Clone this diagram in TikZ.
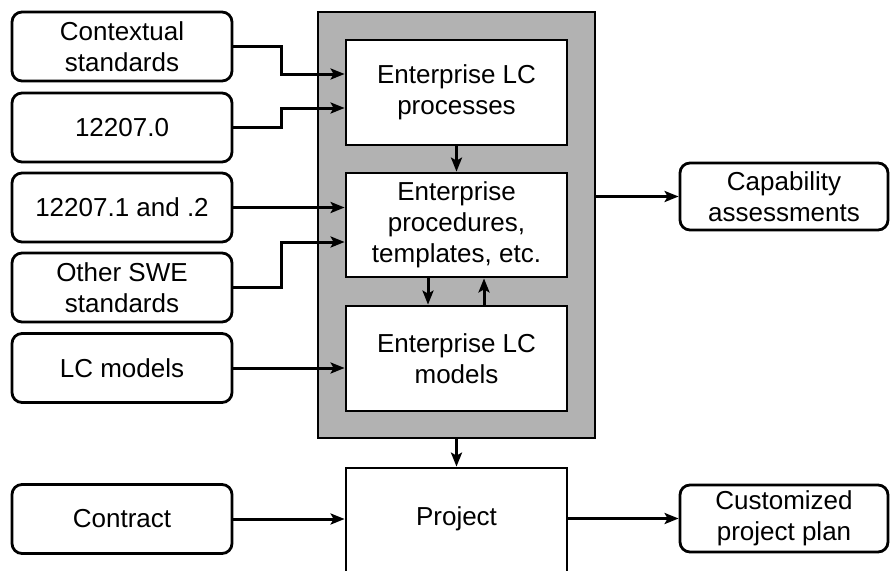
\documentclass[tikz,border=0pt]{standalone}
\usepackage{fontspec}
\setmainfont{Liberation Sans}
\usetikzlibrary{arrows.meta,calc}
\begin{document}
\begin{tikzpicture}[x=1pt,y=-1pt,
  txt/.style={font=\fontsize{26}{31}\selectfont},
  srcbox/.style={draw, txt, line width=2.8pt, rounded corners=10pt, minimum width=220pt, minimum height=69pt, align=center, inner sep=0pt},
  innerbox/.style={draw, txt, fill=white, line width=2.8pt, minimum width=221pt, align=center, inner sep=0pt},
  graybox/.style={draw, fill=black!30, line width=2.8pt, minimum width=277pt, minimum height=426pt},
  arr/.style={line width=3pt, -{Stealth[length=14pt,width=11pt,inset=3pt]}}
]
\useasboundingbox (0,0) rectangle (890,570);
\clip (0,0) rectangle (890,570);
% sources
\node[srcbox] (ctx) at (122,46.5) {Contextual\\standards};
\node[srcbox] (s0) at (122,127.5) {12207.0};
\node[srcbox] (s12) at (122,207.5) {12207.1 and .2};
\node[srcbox] (swe) at (122,287.5) {Other SWE\\standards};
\node[srcbox] (lcm) at (122,368) {LC models};
\node[srcbox] (con) at (122,519) {Contract};
% enterprise
\node[graybox] (gray) at (456.5,225) {};
\node[innerbox, minimum height=105pt] (proc) at (456.5,92.5) {Enterprise LC\\processes};
\node[innerbox, minimum height=104pt] (pro) at (456.5,225) {Enterprise\\procedures,\\templates, etc.};
\node[innerbox, minimum height=105pt] (mod) at (456.5,358.5) {Enterprise LC\\models};
\node[innerbox, minimum height=130pt, label={[yshift=14pt, txt]center:Project}] (proj) at (456.5,533) {};
% outputs
\node[srcbox, minimum width=208pt, minimum height=67pt] (cap) at (784,196.5) {Capability\\assessments};
\node[srcbox, minimum width=208pt, minimum height=67pt] (cpp) at (784,518.5) {Customized\\project plan};
% connectors
\draw[arr] (ctx.east) -- ++(48,0) |- ($(proc.west)+(0,-18.5)$);
\draw[arr] (s0.east) -- ++(48,0) |- ($(proc.west)+(0,15.5)$);
\draw[arr] (s12.east) -- (s12.east -| pro.west);
\draw[arr] (swe.east) -- ++(48,0) |- ($(pro.west)+(0,17)$);
\draw[arr] (lcm.east) -- (lcm.east -| mod.west);
\draw[arr] (con.east) -- (con.east -| proj.west);
\draw[arr] (proc.south) -- (pro.north);
\draw[arr] ($(pro.south)+(-28.5,0)$) -- ($(mod.north)+(-28.5,0)$);
\draw[arr] ($(mod.north)+(27.5,0)$) -- ($(pro.south)+(27.5,0)$);
\draw[arr] (gray.south) -- (proj.north);
\draw[arr] (gray.east |- cap.west) -- (cap.west);
\draw[arr] (proj.east |- cpp.west) -- (cpp.west);
\end{tikzpicture}
\end{document}
